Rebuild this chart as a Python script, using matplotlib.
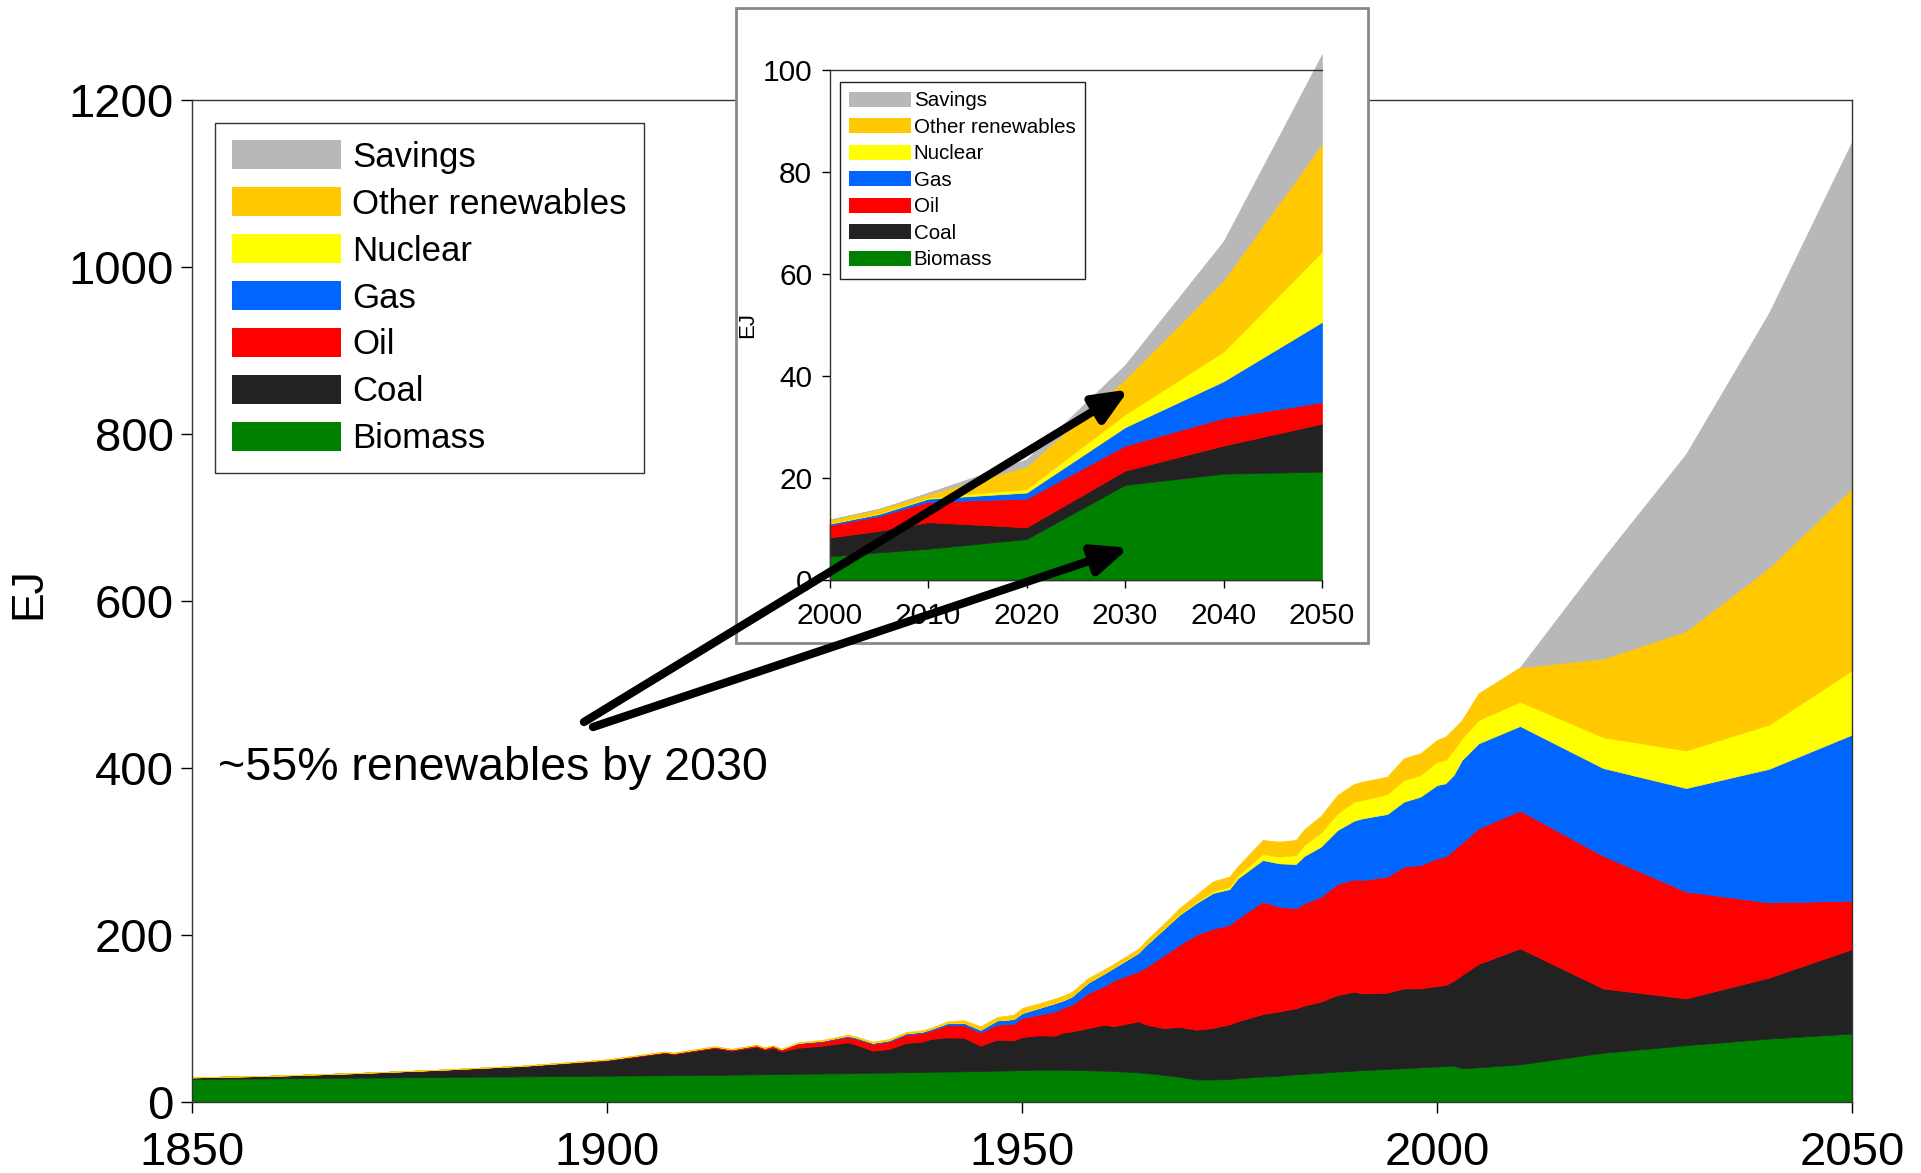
import matplotlib
matplotlib.use('Agg')
import numpy as np
import matplotlib.pyplot as plt
from matplotlib.patches import Patch, Rectangle

plt.rcParams['font.family'] = ['Liberation Sans', 'DejaVu Sans']

# ---------------- data: main chart (EJ) ----------------
series_names = ['Biomass', 'Coal', 'Oil', 'Gas', 'Nuclear', 'Other renewables', 'Savings']
colors = ['#008000', '#222222', '#FF0000', '#0066FF', '#FFFF00', '#FFC800', '#B8B8B8']

years = [1850, 1860, 1870, 1880, 1890, 1900, 1907, 1908, 1913, 1915,
         1918, 1919, 1920, 1921, 1923, 1926, 1929, 1930, 1932, 1934,
         1936, 1938, 1939, 1941, 1943, 1945, 1947, 1949, 1950, 1952,
         1954, 1955, 1956, 1958, 1960, 1961, 1964, 1965, 1967, 1969,
         1971, 1973, 1975, 1976, 1979, 1981, 1983, 1984, 1986, 1988,
         1990, 1991, 1994, 1996, 1998, 2000, 2001, 2002, 2003, 2005,
         2010, 2020, 2030, 2040, 2050]

biomass = [27.5, 28.3, 29.1, 29.9, 30.7, 31.5, 32.0, 32.1, 32.5, 32.7,
           33.2, 33.3, 33.5, 33.6, 33.8, 34.2, 34.5, 34.7, 35.0, 35.3,
           35.7, 36.0, 36.2, 36.5, 36.7, 37.0, 37.5, 38.0, 38.3, 38.7,
           38.7, 38.6, 38.5, 38.0, 37.5, 37.2, 35.5, 34.7, 32.5, 30.0,
           27.0, 27.0, 27.5, 28.5, 30.5, 31.5, 33.1, 33.8, 35.0, 36.5,
           37.5, 38.3, 39.5, 40.5, 41.5, 42.5, 43.0, 43.5, 40.5, 41.5,
           45.1, 59.0, 68.0, 76.0, 82.0]

coal = [2.0, 3.2, 5.6, 8.6, 12.3, 18.5, 27.0, 25.4, 32.2, 28.8,
        33.1, 29.4, 31.5, 27.1, 31.2, 33.3, 37.0, 34.0, 26.5, 28.2,
        35.0, 36.3, 39.3, 40.9, 40.3, 30.5, 37.2, 35.9, 39.5, 41.1,
        40.7, 44.8, 46.0, 50.6, 55.1, 53.4, 61.1, 57.9, 56.1, 59.8,
        59.6, 61.6, 65.5, 68.1, 74.9, 77.0, 79.1, 81.7, 85.2, 91.6,
        94.6, 91.8, 91.4, 95.6, 94.6, 96.4, 97.1, 101.5, 111.6, 123.8,
        138.9, 77.0, 56.0, 73.0, 101.0]

oil = [0.0, 0.0, 0.0, 0.2, 0.5, 0.7, 1.0, 1.0, 1.3, 1.3,
       1.5, 1.8, 2.0, 2.0, 5.0, 5.0, 6.5, 7.1, 8.0, 9.0,
       9.8, 10.2, 9.8, 14.6, 15.0, 15.9, 17.9, 19.9, 22.8, 24.8,
       29.2, 29.6, 32.1, 41.9, 46.7, 54.7, 59.9, 69.1, 86.6, 98.6,
       113.8, 119.0, 119.0, 123.4, 134.5, 125.4, 119.7, 122.4, 125.7, 133.0,
       134.6, 135.8, 139.0, 145.7, 147.7, 152.9, 153.7, 156.8, 158.5, 162.4,
       164.9, 159.0, 128.0, 90.0, 58.0]

gas = [0.0, 0.0, 0.0, 0.0, 0.0, 0.1, 0.2, 0.2, 0.4, 0.4,
       0.4, 0.4, 0.5, 0.5, 0.8, 1.0, 1.5, 1.5, 1.4, 1.5,
       1.8, 1.8, 2.0, 2.5, 3.0, 3.2, 5.2, 5.6, 6.0, 8.0,
       10.0, 9.0, 9.9, 12.8, 15.2, 15.2, 21.9, 26.7, 31.2, 36.0,
       37.9, 42.7, 43.0, 47.9, 49.9, 51.9, 53.1, 56.7, 59.9, 64.6,
       70.2, 73.8, 75.0, 77.9, 81.9, 87.8, 87.8, 89.8, 99.0, 101.8,
       101.4, 105.0, 124.0, 160.0, 199.0]

nuclear = [0.0, 0.0, 0.0, 0.0, 0.0, 0.0, 0.0, 0.0, 0.0, 0.0,
           0.0, 0.0, 0.0, 0.0, 0.0, 0.0, 0.0, 0.0, 0.0, 0.0,
           0.0, 0.0, 0.0, 0.0, 0.0, 0.0, 0.0, 0.0, 0.0, 0.0,
           0.0, 0.0, 0.0, 0.0, 0.1, 0.2, 0.4, 0.6, 0.8, 1.1,
           1.5, 2.0, 3.0, 3.5, 7.2, 8.0, 10.8, 13.2, 16.8, 20.0,
           22.8, 22.0, 24.0, 25.9, 25.9, 28.0, 28.0, 30.0, 25.9, 28.0,
           29.1, 37.0, 45.0, 53.0, 77.0]

other_renewables = [0.0, 0.0, 0.0, 0.0, 0.1, 0.2, 0.3, 0.3, 0.4, 0.4,
                    0.5, 0.5, 0.6, 0.6, 0.7, 1.0, 1.1, 1.2, 1.3, 1.4,
                    1.5, 1.6, 1.6, 2.0, 3.0, 4.0, 4.0, 5.2, 6.0, 5.5,
                    5.5, 5.5, 5.5, 5.2, 4.8, 4.5, 4.5, 5.0, 5.5, 7.0,
                    8.5, 12.0, 12.0, 11.0, 16.8, 18.0, 18.0, 18.7, 19.9, 22.0,
                    21.1, 21.9, 20.7, 26.0, 26.0, 25.9, 27.9, 25.4, 22.0, 31.9,
                    41.2, 94.0, 143.0, 188.0, 218.0]

savings_years = [2010, 2020, 2030, 2040, 2050]
savings = [0.0, 120.0, 212.0, 305.0, 415.0]

main_xticks = [1850, 1900, 1950, 2000, 2050]
main_yticks = [0, 200, 400, 600, 800, 1000, 1200]

# ---------------- data: inset (EJ) ----------------
years_in = [2000, 2005, 2010, 2020, 2030, 2040, 2050]
biomass_in = [4.7, 5.5, 6.2, 8.1, 18.7, 20.9, 21.3]
coal_in = [3.7, 4.2, 5.2, 2.3, 2.8, 5.5, 9.4]
oil_in = [2.4, 2.9, 4.0, 5.6, 4.9, 5.4, 4.2]
gas_in = [0.3, 0.4, 0.6, 1.2, 3.6, 7.2, 15.7]
nuclear_in = [0.1, 0.1, 0.2, 0.7, 2.5, 5.8, 13.8]
other_renewables_in = [0.7, 0.9, 0.7, 4.4, 6.9, 14.0, 21.1]
savings_in = [0.0, 0.0, 0.3, 1.4, 2.8, 7.6, 17.5]
inset_xticks = [2000, 2010, 2020, 2030, 2040, 2050]
inset_yticks = [0, 20, 40, 60, 80, 100]

annotation_text = '~55% renewables by 2030'
arrow_targets = [(2030.4, 37.4), (2030.4, 6.4)]   # inset data coords

# ---------------- figure ----------------
W, H = 1921, 1173
fig = plt.figure(figsize=(W / 100, H / 100), dpi=100)

def fx(px):
    return px / W

def fy(py):
    return 1 - py / H

ax = fig.add_axes([fx(192), fy(1102), fx(1852) - fx(192), fy(100) - fy(1102)])
ax.set_zorder(0)

stack = [biomass, coal, oil, gas, nuclear, other_renewables]
polys = ax.stackplot(years, *stack, colors=colors[:6], edgecolor='face', linewidth=0.5)

# savings stacked on top of the total
total = np.sum(np.array(stack), axis=0)
base = np.array([total[years.index(y)] for y in savings_years])
ax.fill_between(savings_years, base, base + np.array(savings),
                facecolor=colors[6], edgecolor=colors[6], linewidth=0.5)

ax.set_xlim(1850, 2050)
ax.set_ylim(0, 1200)
ax.set_xticks(main_xticks)
ax.set_yticks(main_yticks)
ax.tick_params(axis='both', labelsize=34, length=8, width=1, direction='out')
ax.tick_params(axis='x', pad=13)
ax.tick_params(axis='y', pad=5)
for s in ax.spines.values():
    s.set_linewidth(1.0)
    s.set_color('#333333')

fig.text(fx(29), fy(593), 'EJ', rotation=90, fontsize=32, ha='center', va='center')

handles = [Patch(facecolor=c, edgecolor='none') for c in colors[::-1]]
leg = ax.legend(handles, series_names[::-1], loc='upper left',
                bbox_to_anchor=((214.5 - 192) / 1660, (1102 - 123) / 1002),
                fontsize=25, handlelength=3.14, handleheight=0.9, handletextpad=0.32,
                labelspacing=0.39, borderpad=0.5, borderaxespad=0, fancybox=False,
                frameon=True, framealpha=1, edgecolor='#333333')
leg.get_frame().set_linewidth(1.0)

fig.text(fx(218), fy(780), annotation_text, fontsize=33.5, ha='left', va='baseline')

# ---------------- inset ----------------
frame = Rectangle((fx(736), fy(643)), fx(1368) - fx(736), fy(8) - fy(643),
                  transform=fig.transFigure, facecolor='white', edgecolor='#888888',
                  linewidth=2.0, zorder=1)
fig.add_artist(frame)

ax_in = fig.add_axes([fx(829.6), fy(580.4), fx(1322) - fx(829.6), fy(69.7) - fy(580.4)])
ax_in.set_zorder(2)
ax_in.patch.set_alpha(0)
stack_in = [biomass_in, coal_in, oil_in, gas_in, nuclear_in, other_renewables_in, savings_in]
polys_in = ax_in.stackplot(years_in, *stack_in, colors=colors, edgecolor='face', linewidth=0.5)
for p in polys_in:
    p.set_clip_on(False)
ax_in.set_xlim(2000, 2050)
ax_in.set_ylim(0, 100)
ax_in.set_xticks(inset_xticks)
ax_in.set_yticks(inset_yticks)
ax_in.tick_params(axis='both', labelsize=21.5, length=5.5, width=1, direction='out')
ax_in.tick_params(axis='y', pad=7)
ax_in.tick_params(axis='x', pad=10)
ax_in.spines['right'].set_visible(False)
for k in ['left', 'bottom', 'top']:
    ax_in.spines[k].set_linewidth(1.0)
    ax_in.spines[k].set_color('#333333')

fig.text(fx(748), fy(325), 'EJ', rotation=90, fontsize=16, ha='center', va='center')

handles_in = [Patch(facecolor=c, edgecolor='none') for c in colors[::-1]]
leg_in = ax_in.legend(handles_in, series_names[::-1], loc='upper left',
                      bbox_to_anchor=((840 - 829.6) / 492.4, (580.4 - 82) / 510.7),
                      fontsize=14.8, handlelength=3.0, handleheight=0.72, handletextpad=0.12,
                      labelspacing=0.365, borderpad=0.46, borderaxespad=0, fancybox=False,
                      frameon=True, framealpha=1, edgecolor='#222222')
leg_in.get_frame().set_linewidth(1.0)

tails = [(fx(584), fy(722)), (fx(593), fy(727))]
for tgt, tail in zip(arrow_targets, tails):
    ax_in.annotate('', xy=tgt, xycoords='data', xytext=tail, textcoords='figure fraction',
                   annotation_clip=False, zorder=10,
                   arrowprops=dict(arrowstyle='-|>,head_length=2.1,head_width=0.9',
                                   lw=6, color='black', shrinkA=0, shrinkB=0,
                                   mutation_scale=10))

fig.savefig('out.png', dpi=100)
